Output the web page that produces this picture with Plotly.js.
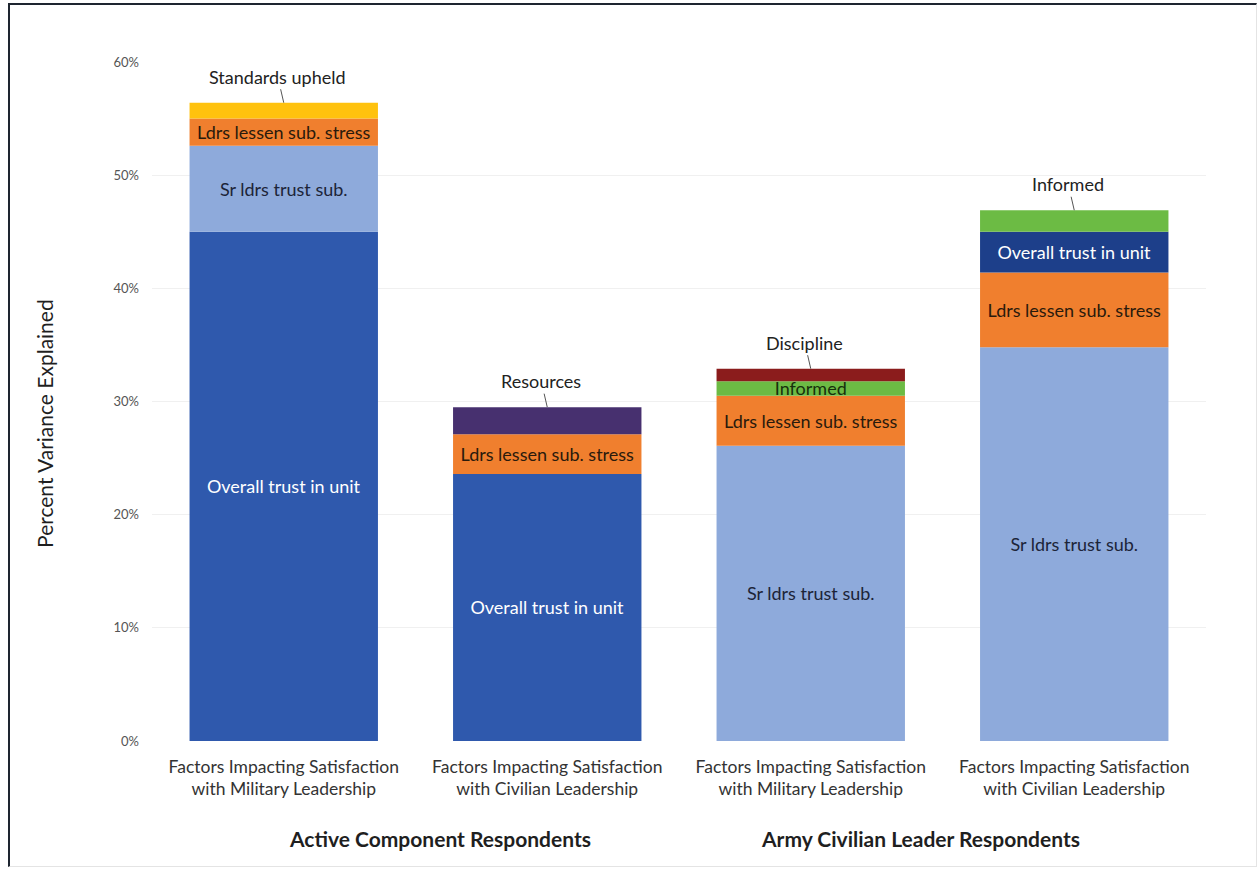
<!DOCTYPE html>
<html>
<head>
<meta charset="utf-8">
<script src="https://cdn.plot.ly/plotly-3.0.1.min.js"></script>
<style>
  html, body { margin: 0; padding: 0; background: #fff; }
  #chart { width: 1259px; height: 869px; }
  #frame { position: absolute; left: 8px; top: 3px; width: 1246px; height: 861px;
           border-top: 2px solid #1e2530; border-left: 2px solid #1e2530;
           border-right: 1px solid #e4e4e4; border-bottom: 1px solid #e4e4e4;
           pointer-events: none; }
</style>
</head>
<body>
<div id="chart"></div>
<div id="frame"></div>
<script>
// ---- data (percent variance explained, stacked bottom to top) ----
const categories = [
  'Factors Impacting Satisfaction<br>with Military Leadership',
  'Factors Impacting Satisfaction<br>with Civilian Leadership',
  'Factors Impacting Satisfaction<br>with Military Leadership',
  'Factors Impacting Satisfaction<br>with Civilian Leadership'
];
const groupLabels = ['Active Component Respondents', 'Army Civilian Leader Respondents'];

const bar1Factors = ['Overall trust in unit', 'Sr ldrs trust sub.', 'Ldrs lessen sub. stress', 'Standards upheld'];
const bar1Values  = [45.0, 7.6, 2.4, 1.4];

const bar2Factors = ['Overall trust in unit', 'Ldrs lessen sub. stress', 'Resources'];
const bar2Values  = [23.6, 3.5, 2.4];

const bar3Factors = ['Sr ldrs trust sub.', 'Ldrs lessen sub. stress', 'Informed', 'Discipline'];
const bar3Values  = [26.1, 4.4, 1.3, 1.1];

const bar4Factors = ['Sr ldrs trust sub.', 'Ldrs lessen sub. stress', 'Overall trust in unit', 'Informed'];
const bar4Values  = [34.8, 6.6, 3.6, 1.9];

const yTickVals = [0, 10, 20, 30, 40, 50, 60];
const yTickText = ['0%', '10%', '20%', '30%', '40%', '50%', '60%'];

// ---- styles ----
const factorColors = {
  'Overall trust in unit': '#2f59ad',
  'Sr ldrs trust sub.': '#8eaadb',
  'Ldrs lessen sub. stress': '#f07f2e',
  'Standards upheld': '#ffc20e',
  'Resources': '#47306f',
  'Informed': '#6cbb44',
  'Discipline': '#8b1c1c'
};
const darkOverallColor = '#1d3f8a'; // overall trust shown darker when not the base
const textColors = {
  'Overall trust in unit': '#ffffff',
  'Sr ldrs trust sub.': '#1c2438',
  'Ldrs lessen sub. stress': '#2a1a0c',
  'Informed': '#17300c'
};
const FONT = 'Lato, "Open Sans", sans-serif';

const barFactors = [bar1Factors, bar2Factors, bar3Factors, bar4Factors];
const barValues = [bar1Values, bar2Values, bar3Values, bar4Values];

const traces = [];
const annotations = [];
barFactors.forEach((factors, bi) => {
  let base = 0;
  factors.forEach((f, si) => {
    const v = barValues[bi][si];
    const isTop = si === factors.length - 1;
    let color = factorColors[f];
    if (f === 'Overall trust in unit' && si > 0) color = darkOverallColor;
    traces.push({
      type: 'bar',
      x: [bi],
      y: [v],
      base: [base],
      width: 0.715,
      marker: { color: color, line: { width: 0 } },
      text: [isTop ? '' : f],
      textposition: 'inside',
      insidetextanchor: 'middle',
      textangle: 0,
      constraintext: 'none',
      textfont: { family: FONT, size: 18, color: textColors[f] || '#222' },
      hoverinfo: 'skip',
      showlegend: false
    });
    base += v;
    if (isTop) {
      annotations.push({
        x: bi, y: base, xref: 'x', yref: 'y',
        text: f, showarrow: true, arrowhead: 0, arrowwidth: 1, arrowcolor: '#555',
        ax: -6, ay: -26,
        font: { family: FONT, size: 18, color: '#222' }
      });
    }
  });
});

// group labels
annotations.push({
  x: 0.593, y: -0.143, xref: 'x', yref: 'paper', text: '<b>' + groupLabels[0] + '</b>',
  showarrow: false, xanchor: 'center', yanchor: 'middle',
  font: { family: FONT, size: 21, color: '#1f1f1f' }
});
annotations.push({
  x: 2.418, y: -0.143, xref: 'x', yref: 'paper', text: '<b>' + groupLabels[1] + '</b>',
  showarrow: false, xanchor: 'center', yanchor: 'middle',
  font: { family: FONT, size: 21, color: '#1f1f1f' }
});
// y title
annotations.push({
  x: -0.1015, y: 0.467, xref: 'paper', yref: 'paper', text: 'Percent Variance Explained',
  showarrow: false, textangle: -90, xanchor: 'center', yanchor: 'middle',
  font: { family: FONT, size: 21, color: '#1f1f1f' }
});

const layout = {
  width: 1259, height: 869,
  margin: { l: 152, r: 53, t: 62, b: 128 },
  paper_bgcolor: '#ffffff', plot_bgcolor: '#ffffff',
  barmode: 'overlay',
  uniformtext: { mode: 'show', minsize: 18 },
  xaxis: {
    range: [-0.5, 3.5],
    tickmode: 'array', tickvals: [0, 1, 2, 3], ticktext: categories,
    ticks: '', showgrid: false, zeroline: false, showline: false,
    ticklabelstandoff: 13,
    tickfont: { family: FONT, size: 17.5, color: '#333' }
  },
  yaxis: {
    range: [0, 60],
    tickmode: 'array', tickvals: yTickVals, ticktext: yTickText,
    ticks: '', showgrid: true, gridcolor: '#f0f0f0', gridwidth: 1,
    zeroline: false, showline: false,
    ticklabelstandoff: 12,
    tickfont: { family: FONT, size: 13, color: '#555' }
  },
  annotations: annotations,
  showlegend: false
};

Plotly.newPlot('chart', traces, layout, { displayModeBar: false, staticPlot: true });
</script>
</body>
</html>
